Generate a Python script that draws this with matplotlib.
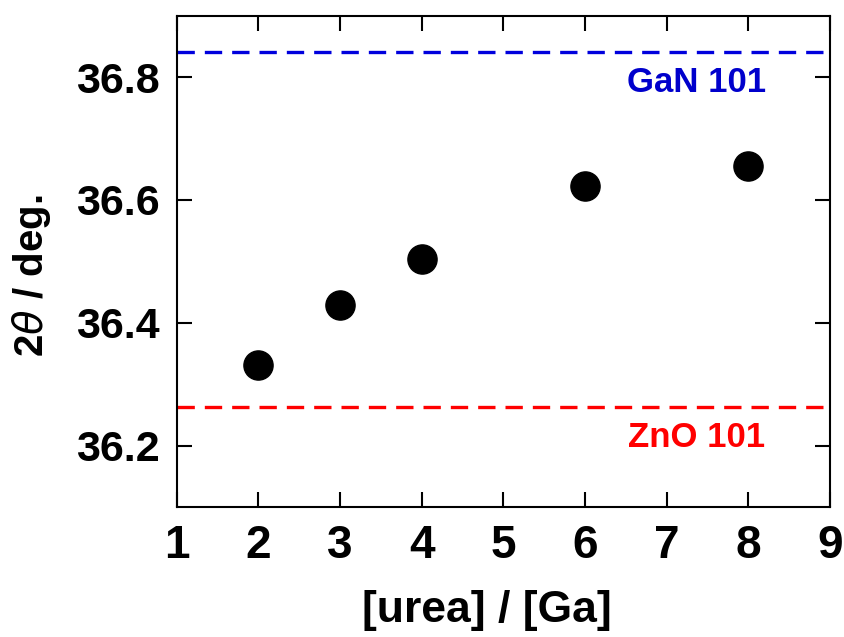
import matplotlib.pyplot as plt

ratio = [2, 3, 4, 6, 8]
two_theta = [36.331, 36.429, 36.503, 36.622, 36.655]
gan_101 = 36.841
zno_101 = 36.263
x_ticks = [1, 2, 3, 4, 5, 6, 7, 8, 9]
y_ticks = [36.2, 36.4, 36.6, 36.8]

plt.rcParams["font.family"] = ["Liberation Sans", "DejaVu Sans"]

fig = plt.figure(figsize=(8.44, 6.37), dpi=100)
ax = fig.add_axes([0.2094, 0.2041, 0.774, 0.7713])

ax.axhline(gan_101, color="#0000DD", linestyle=(0, (5.2, 3)), linewidth=2.4)
ax.axhline(zno_101, color="#FF0000", linestyle=(0, (5.2, 3)), linewidth=2.4)
ax.plot(ratio, two_theta, "o", color="black", markersize=21, linestyle="none")

ax.text(7.36, gan_101 - 0.05, "GaN 101", color="#0000CC", fontsize=25,
        fontweight="bold", ha="center", va="center")
ax.text(7.36, zno_101 - 0.05, "ZnO 101", color="#FF0000", fontsize=25,
        fontweight="bold", ha="center", va="center")

ax.set_xlim(1, 9)
ax.set_ylim(36.1, 36.9)
ax.set_xticks(x_ticks)
ax.set_yticks(y_ticks)
ax.set_yticklabels([f"{v:.1f}" for v in y_ticks], fontsize=31, fontweight="bold")
ax.set_xticklabels([str(v) for v in x_ticks], fontsize=33, fontweight="bold")

ax.tick_params(direction="in", length=10.5, width=1.5, top=True, right=True)
ax.tick_params(axis="y", pad=12)
ax.tick_params(axis="x", pad=12)
for s in ax.spines.values():
    s.set_linewidth(1.5)

ax.set_xlabel("[urea] / [Ga]", fontsize=32, fontweight="bold")
ax.set_ylabel(r"2$\it{\theta}$ / deg.", fontsize=29, fontweight="bold")
ax.xaxis.set_label_coords(0.475, -0.168)
ax.yaxis.set_label_coords(-0.19, 0.47)

plt.savefig("out.png", dpi=100)
